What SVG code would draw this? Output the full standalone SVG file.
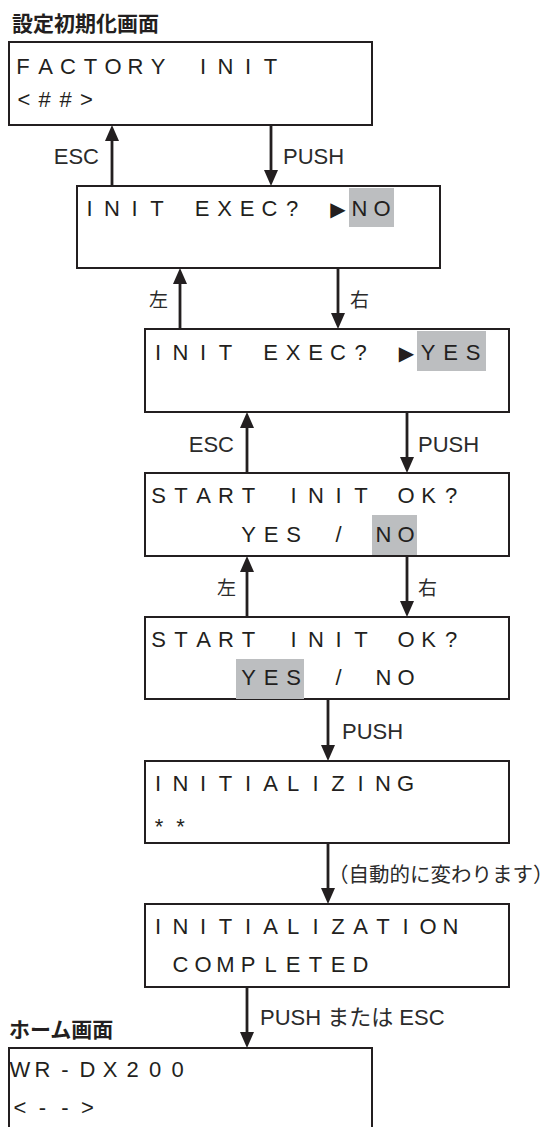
<svg xmlns="http://www.w3.org/2000/svg" width="554" height="1127" viewBox="0 0 554 1127">
<style>
.box{fill:#fff;stroke:#231f20;stroke-width:2}
.hl{fill:#bcbec0}
.lcd{font-family:"Liberation Sans",Arial,sans-serif;font-size:22px;fill:#231f20;text-anchor:middle}
.tri{font-family:"DejaVu Sans",sans-serif;font-size:20px}
.lbl{font-family:"Liberation Sans","Noto Sans CJK JP",sans-serif;font-size:22px;fill:#2b2b2b}
.jlbl{font-family:"Noto Sans CJK JP",sans-serif;font-size:19px;fill:#2b2b2b}
.title{font-family:"Noto Sans CJK JP",sans-serif;font-size:21px;font-weight:bold;fill:#231f20}
.arr{stroke:#231f20;stroke-width:2.8;fill:none;marker-end:url(#ah)}
</style>
<defs>
<marker id="ah" markerUnits="userSpaceOnUse" markerWidth="16" markerHeight="14" viewBox="0 0 16 14" refX="5" refY="7" orient="auto">
<path d="M0,0 L16,7 L0,14 z" fill="#231f20"/>
</marker>
</defs>

<text class="title" x="12" y="31">設定初期化画面</text>
<text class="title" x="9" y="1037">ホーム画面</text>

<g id="connectors">
<line class="arr" x1="112" y1="186" x2="112" y2="136"/>
<line class="arr" x1="271" y1="125" x2="271" y2="175"/>
<line class="arr" x1="180" y1="329" x2="180" y2="279"/>
<line class="arr" x1="338" y1="268" x2="338" y2="318"/>
<line class="arr" x1="247" y1="473" x2="247" y2="423"/>
<line class="arr" x1="407" y1="412" x2="407" y2="462"/>
<line class="arr" x1="247" y1="617" x2="247" y2="567"/>
<line class="arr" x1="407" y1="556" x2="407" y2="606"/>
<line class="arr" x1="328" y1="699" x2="328" y2="750"/>
<line class="arr" x1="328" y1="843" x2="328" y2="893"/>
<line class="arr" x1="247" y1="987" x2="247" y2="1037"/>
<text class="lbl" x="99" y="164" text-anchor="end">ESC</text>
<text class="lbl" x="283" y="164">PUSH</text>
<text class="jlbl" x="168" y="307" text-anchor="end">左</text>
<text class="jlbl" x="350" y="307">右</text>
<text class="lbl" x="234" y="452" text-anchor="end">ESC</text>
<text class="lbl" x="418" y="452">PUSH</text>
<text class="jlbl" x="236" y="595" text-anchor="end">左</text>
<text class="jlbl" x="418" y="595">右</text>
<text class="lbl" x="342" y="739">PUSH</text>
<text class="lbl" x="328" y="882" style="font-size:20.5px">（自動的に変わります）</text>
<text class="lbl" x="260" y="1025">PUSH または ESC</text>
</g>

<g id="n1">
<rect class="box" x="9" y="42" width="363" height="83"/>
<text class="lcd" x="23 45.5 68 90.5 113 135.5 158 180.5 203 225.5 248 270.5" y="74">FACTORY INIT</text>
<text class="lcd" x="24 44.5 65.5 86.5" y="107">&lt;##&gt;</text>
</g>

<g id="n2">
<rect class="box" x="77" y="186" width="363" height="82"/>
<rect class="hl" x="349" y="188" width="45" height="39"/>
<text class="lcd" x="89.5 112 134.5 157 179.5 202 224.5 247 269.5 292 314.5 338 359.5 382" y="216">INIT EXEC? <tspan class="tri">▶</tspan>NO</text>
</g>

<g id="n3">
<rect class="box" x="145" y="329" width="364" height="83"/>
<rect class="hl" x="417" y="331" width="69" height="40"/>
<text class="lcd" x="158 180.5 203 225.5 248 270.5 293 315.5 338 360.5 383 406.5 428 450.5 473" y="360">INIT EXEC? <tspan class="tri">▶</tspan>YES</text>
</g>

<g id="n4">
<rect class="box" x="145" y="473" width="364" height="83"/>
<rect class="hl" x="372" y="515" width="45" height="40"/>
<text class="lcd" x="158.5 181 203.5 226 248.5 271 293.5 316 338.5 361 383.5 406 428.5 451" y="503">START INIT OK?</text>
<text class="lcd" x="248.5 271 293.5 316 338.5 361 383.5 406" y="542">YES / NO</text>
</g>

<g id="n5">
<rect class="box" x="145" y="617" width="364" height="82"/>
<rect class="hl" x="236" y="659" width="68" height="40"/>
<text class="lcd" x="158.5 181 203.5 226 248.5 271 293.5 316 338.5 361 383.5 406 428.5 451" y="647">START INIT OK?</text>
<text class="lcd" x="248.5 271 293.5 316 338.5 361 383.5 406" y="685">YES / NO</text>
</g>

<g id="n6">
<rect class="box" x="145" y="761" width="364" height="82"/>
<text class="lcd" x="158 180.5 203 225.5 248 270.5 293 315.5 338 360.5 383 405.5" y="791">INITIALIZING</text>
<text class="lcd" x="159 180.5" y="834">**</text>
</g>

<g id="n7">
<rect class="box" x="145" y="904" width="364" height="83"/>
<text class="lcd" x="158 180.5 203 225.5 248 270.5 293 315.5 338 360.5 383 405.5 428 450.5" y="934">INITIALIZATION</text>
<text class="lcd" x="180.5 203 225.5 248 270.5 293 315.5 338 360.5" y="972">COMPLETED</text>
</g>

<g id="n8">
<rect class="box" x="9" y="1048" width="363" height="100"/>
<text class="lcd" x="20 42.5 65 87.5 110 132.5 155 177.5" y="1077">WR-DX200</text>
<text class="lcd" x="20 42.5 65 87.5" y="1115">&lt;--&gt;</text>
</g>
</svg>
